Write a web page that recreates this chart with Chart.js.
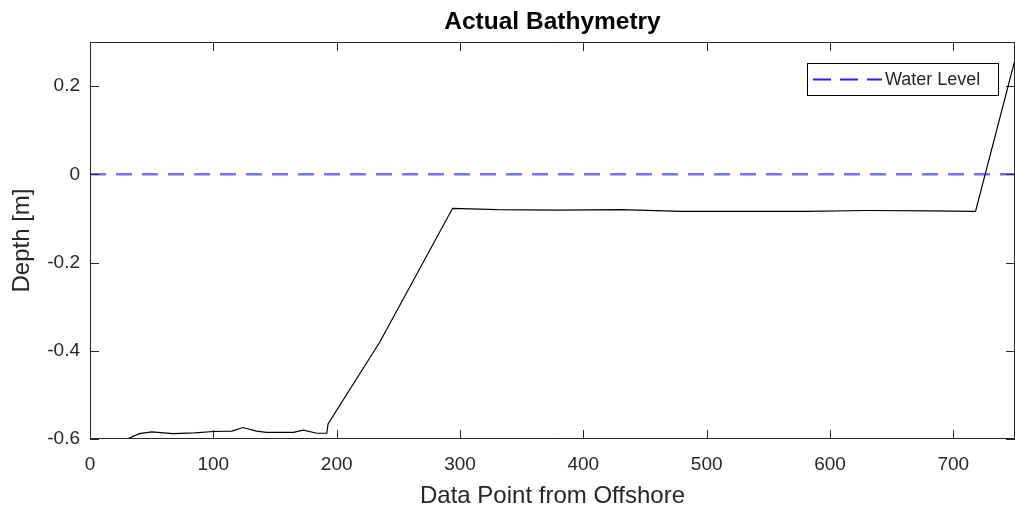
<!DOCTYPE html>
<html>
<head>
<meta charset="utf-8">
<script src="https://cdn.jsdelivr.net/npm/chart.js@4"></script>
<style>
  html, body { margin: 0; padding: 0; background: #fff; }
  #wrap { width: 1015px; height: 511px; }
</style>
</head>
<body>
<div id="wrap"><canvas id="bathyChart" width="1015" height="511"></canvas></div>
<script>
// values
const pointIndex = [30, 40, 50, 67, 85, 100, 115, 124, 135, 143, 155, 165, 173, 184, 192, 193, 235, 294, 330, 380, 430, 480, 530, 580, 630, 680, 718, 750];
const depth = [-0.600, -0.588, -0.584, -0.588, -0.586, -0.583, -0.582, -0.574, -0.582, -0.585, -0.585, -0.585, -0.580, -0.587, -0.587, -0.566, -0.380, -0.077, -0.080, -0.081, -0.080, -0.084, -0.084, -0.084, -0.082, -0.083, -0.084, 0.260];
const waterX = [0, 750];
const waterY = [0, 0];
const xTicks = [0, 100, 200, 300, 400, 500, 600, 700];
const yTicks = [-0.6, -0.4, -0.2, 0, 0.2];

const FONT = '"Liberation Sans", Arial, sans-serif';
const INK = '#262626';

const bathyData = pointIndex.map((x, i) => ({ x: x, y: depth[i] }));
const waterData = waterX.map((x, i) => ({ x: x, y: waterY[i] }));

// matlab style box + inward ticks + title + legend inside the axes
const frameAndLegend = {
    id: 'frameAndLegend',
    afterDatasetsDraw(chart) {
        const ctx = chart.ctx;
        const a = chart.chartArea;
        const xs = chart.scales.x, ys = chart.scales.y;
        ctx.save();
        ctx.strokeStyle = INK;
        ctx.lineWidth = 1;
        ctx.beginPath();
        ctx.moveTo(a.left + 0.5, a.top + 0.5);
        ctx.lineTo(a.right - 0.5, a.top + 0.5);
        ctx.lineTo(a.right - 0.5, a.bottom - 0.5);
        ctx.lineTo(a.left + 0.5, a.bottom - 0.5);
        ctx.closePath();
        ctx.stroke();
        ctx.beginPath();
        xTicks.forEach(v => {
            const px = Math.round(xs.getPixelForValue(v)) + 0.5;
            ctx.moveTo(px, a.bottom); ctx.lineTo(px, a.bottom - 9);
            ctx.moveTo(px, a.top); ctx.lineTo(px, a.top + 9);
        });
        yTicks.forEach(v => {
            const py = Math.round(ys.getPixelForValue(v)) + 0.5;
            ctx.moveTo(a.left, py); ctx.lineTo(a.left + 9, py);
            ctx.moveTo(a.right, py); ctx.lineTo(a.right - 9, py);
        });
        ctx.stroke();

        // title centred over the axes
        ctx.fillStyle = '#000';
        ctx.font = 'bold 24.5px ' + FONT;
        ctx.textAlign = 'center';
        ctx.textBaseline = 'alphabetic';
        ctx.fillText('Actual Bathymetry', (a.left + a.right) / 2, 29);

        // legend box
        const lx = 807, ly = 63, lw = 191, lh = 32;
        ctx.fillStyle = '#fff';
        ctx.fillRect(lx, ly, lw, lh);
        ctx.strokeStyle = '#000';
        ctx.lineWidth = 1;
        ctx.strokeRect(lx + 0.5, ly + 0.5, lw, lh);
        ctx.strokeStyle = '#1f1fff';
        ctx.lineWidth = 2;
        ctx.setLineDash([18, 9]);
        ctx.beginPath();
        ctx.moveTo(813, ly + 16.5);
        ctx.lineTo(882, ly + 16.5);
        ctx.stroke();
        ctx.setLineDash([]);
        ctx.fillStyle = INK;
        ctx.font = '18px ' + FONT;
        ctx.textAlign = 'left';
        ctx.textBaseline = 'middle';
        ctx.fillText('Water Level', 885, ly + 17);
        ctx.restore();
    }
};

new Chart(document.getElementById('bathyChart'), {
    type: 'line',
    data: {
        datasets: [
            {
                label: 'Water Level',
                data: waterData,
                borderColor: 'rgba(0, 0, 255, 0.55)',
                borderWidth: 2.5,
                borderDash: [16, 10],
                pointRadius: 0,
                fill: false,
                tension: 0
            },
            {
                label: 'Bathymetry',
                data: bathyData,
                borderColor: '#000',
                borderWidth: 1.2,
                pointRadius: 0,
                fill: false,
                tension: 0
            }
        ]
    },
    options: {
        responsive: false,
        animation: false,
        events: [],
        layout: { padding: { left: 0, right: 0, top: 42, bottom: 0 } },
        plugins: {
            legend: { display: false },
            tooltip: { enabled: false },
            title: { display: false }
        },
        scales: {
            x: {
                type: 'linear',
                min: 0,
                max: 750,
                afterBuildTicks: s => { s.ticks = xTicks.map(v => ({ value: v })); },
                afterFit: s => { s.height = 72; },
                grid: { display: false, drawTicks: false },
                border: { display: false },
                ticks: {
                    color: INK,
                    padding: 14,
                    maxRotation: 0,
                    font: { family: FONT, size: 19 },
                    callback: v => String(v)
                },
                title: {
                    display: true,
                    text: 'Data Point from Offshore',
                    color: INK,
                    font: { family: FONT, size: 24 },
                    padding: { top: 0, bottom: 0 }
                }
            },
            y: {
                type: 'linear',
                min: -0.6,
                max: 0.3,
                afterBuildTicks: s => { s.ticks = yTicks.map(v => ({ value: v })); },
                afterFit: s => { s.width = 90; },
                grid: { display: false, drawTicks: false },
                border: { display: false },
                ticks: {
                    color: INK,
                    padding: 10,
                    font: { family: FONT, size: 19 },
                    callback: v => String(Math.round(v * 10) / 10)
                },
                title: {
                    display: true,
                    text: 'Depth [m]',
                    color: INK,
                    font: { family: FONT, size: 24 },
                    padding: { top: 8, bottom: 0 }
                }
            }
        }
    },
    plugins: [frameAndLegend]
});
</script>
</body>
</html>
